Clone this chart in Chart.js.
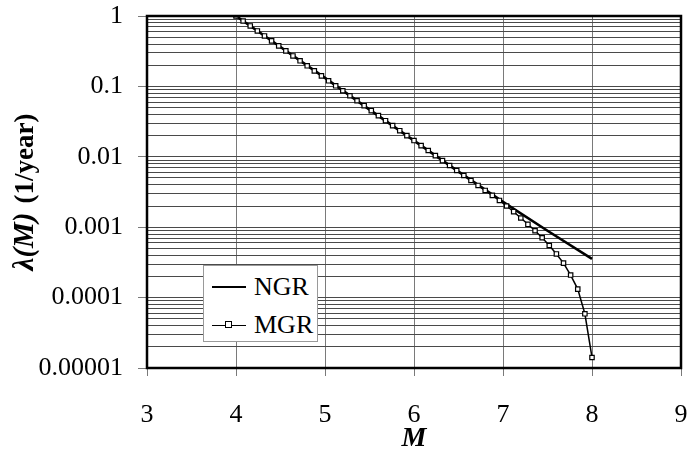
<!DOCTYPE html>
<html>
<head>
<meta charset="utf-8">
<script src="https://cdn.jsdelivr.net/npm/chart.js@4.4.0/dist/chart.umd.min.js"></script>
<style>
  html, body { margin: 0; padding: 0; background: #fff; }
  #wrap { position: relative; width: 689px; height: 449px; }
  .legend {
    position: absolute; left: 203px; top: 265px; width: 115px; height: 77px;
    background: #fff; border: 1px solid #9a9a9a; box-sizing: border-box;
    font-family: 'Liberation Serif', 'Times New Roman', serif; font-size: 26px; color: #000;
  }
  .legend .row { position: absolute; left: 8px; height: 30px; display: flex; align-items: center; }
  .legend .swatch { position: relative; width: 34px; margin-right: 8px; }
  .legend .ngr { border-top: 2.5px solid #000; }
  .legend .mgr { border-top: 1.5px solid #000; }
  .legend .mgr i {
    position: absolute; left: 13px; top: -5px; width: 5px; height: 5px;
    border: 1px solid #000; background: #fff;
  }
</style>
</head>
<body>
<div id="wrap">
  <canvas id="grChart"></canvas>
  <div class="legend">
    <div class="row" style="top:6px"><span class="swatch ngr"></span>NGR</div>
    <div class="row" style="top:44px"><span class="swatch mgr"><i></i></span>MGR</div>
  </div>
</div>
<script>
// ===== DATA =====
// MGR: markers every 0.08 in M
const mgrMag = [
  4.00, 4.08, 4.16, 4.24, 4.32, 4.40, 4.48, 4.56, 4.64, 4.72,
  4.80, 4.88, 4.96, 5.04, 5.12, 5.20, 5.28, 5.36, 5.44, 5.52,
  5.60, 5.68, 5.76, 5.84, 5.92, 6.00, 6.08, 6.16, 6.24, 6.32,
  6.40, 6.48, 6.56, 6.64, 6.72, 6.80, 6.88, 6.96, 7.04, 7.12,
  7.20, 7.28, 7.36, 7.44, 7.52, 7.60, 7.68, 7.76, 7.84, 7.92, 8.00
];
const mgrRate = [
  1, 0.850, 0.722, 0.613, 0.521, 0.443, 0.376, 0.320, 0.271, 0.231,
  0.196, 0.166, 0.141, 0.120, 0.102, 0.0867, 0.0737, 0.0626, 0.0532, 0.0452,
  0.0384, 0.0326, 0.0277, 0.0235, 0.0200, 0.0170, 0.0144, 0.0123, 0.0104, 0.00885,
  0.00752, 0.00639, 0.00543, 0.00461, 0.00392, 0.00333, 0.00283, 0.00240, 0.00200, 0.00166,
  0.00135, 0.00110, 0.000891, 0.000708, 0.000550, 0.000417, 0.000309, 0.000209, 0.000132, 0.0000589, 0.0000141
];
// NGR
const ngrMag  = [4, 4.5, 5, 5.5, 6, 6.5, 7, 7.5, 8];
const ngrRate = [1, 0.363, 0.132, 0.0468, 0.0170, 0.00617, 0.00229, 0.000891, 0.000355];

// axis ticks
const xTicks = [3, 4, 5, 6, 7, 8, 9];
const yDecades = [0.00001, 0.0001, 0.001, 0.01, 0.1, 1];
const yLabels  = ['0.00001', '0.0001', '0.001', '0.01', '0.1', '1'];
const yTitleSymbol = 'λ(M)';
const yTitleUnit = '(1/year)';
const xTitle = 'M';

const FONT = "'Liberation Serif', 'Times New Roman', serif";

// grid lines at 1..9 x 10^n
const yTickValues = [];
yDecades.forEach((d, i) => {
  if (i === yDecades.length - 1) { yTickValues.push(d); return; }
  for (let s = 1; s <= 9; s++) yTickValues.push(+(s * d).toPrecision(3));
});

function isDecade(v) {
  const l = Math.log10(v);
  return Math.abs(l - Math.round(l)) < 1e-9;
}

// ===== PLUGINS =====
const frameAndTitle = {
  id: 'frameAndTitle',
  afterDraw(chart) {
    const { ctx, chartArea: a } = chart;
    ctx.save();
    ctx.strokeStyle = '#000';
    ctx.lineWidth = 2.5;
    ctx.strokeRect(a.left, a.top, a.right - a.left, a.bottom - a.top);

    // y title, mixed italic / upright
    ctx.translate(26, 192);
    ctx.rotate(-Math.PI / 2);
    ctx.fillStyle = '#000';
    ctx.textBaseline = 'middle';
    const f1 = 'italic bold 29px ' + FONT;
    const f2 = 'bold 27px ' + FONT;
    const gap = 9;
    ctx.font = f1; const w1 = ctx.measureText(yTitleSymbol).width;
    ctx.font = f2; const w2 = ctx.measureText(yTitleUnit).width;
    let x = -(w1 + gap + w2) / 2;
    ctx.font = f1; ctx.fillText(yTitleSymbol, x, 0);
    ctx.font = f2; ctx.fillText(yTitleUnit, x + w1 + gap, 0);
    ctx.restore();
  }
};

// ===== CHART =====
document.addEventListener('DOMContentLoaded', () => {
  const el = document.getElementById('grChart');
  new Chart(el, {
    type: 'line',
    data: {
      datasets: [
        {
          label: 'MGR',
          data: mgrMag.map((m, i) => ({ x: m, y: mgrRate[i] })),
          borderColor: '#000',
          borderWidth: 1.5,
          pointStyle: 'rect',
          pointRadius: 3.1,
          pointBorderWidth: 1.2,
          pointBorderColor: '#000',
          pointBackgroundColor: '#fff',
          tension: 0
        },
        {
          label: 'NGR',
          data: ngrMag.map((m, i) => ({ x: m, y: ngrRate[i] })),
          borderColor: '#000',
          borderWidth: 2.6,
          pointRadius: 0,
          tension: 0
        }
      ]
    },
    options: {
      responsive: true,
      maintainAspectRatio: false,
      animation: false,
      layout: { padding: { left: 0, top: 16, right: 8, bottom: 0 } },
      plugins: { legend: { display: false }, tooltip: { enabled: false } },
      scales: {
        x: {
          type: 'linear',
          min: 3, max: 9,
          afterFit: s => { s.height = 81; s.paddingLeft = 0; s.paddingRight = 0; },
          afterBuildTicks: s => { s.ticks = xTicks.map(v => ({ value: v })); },
          ticks: { color: '#000', font: { family: FONT, size: 26 }, padding: 24, maxRotation: 0 },
          grid: { color: '#7a7a7a', lineWidth: 1, tickLength: 8, tickColor: '#7a7a7a' },
          border: { display: false },
          title: {
            display: true, text: xTitle, color: '#000',
            font: { family: FONT, size: 28, weight: 'bold', style: 'italic' },
            padding: { top: 0, bottom: -7 }
          }
        },
        y: {
          type: 'logarithmic',
          min: 0.00001, max: 1,
          afterFit: s => { s.width = 147; s.paddingTop = 0; s.paddingBottom = 0; },
          afterBuildTicks: s => { s.ticks = yTickValues.map(v => ({ value: v })); },
          ticks: {
            autoSkip: false,
            color: '#000',
            font: { family: FONT, size: 26 },
            padding: 15,
            callback: v => {
              const i = yDecades.findIndex(d => Math.abs(d - v) / d < 1e-6);
              return i >= 0 ? yLabels[i] : '';
            }
          },
          grid: {
            color: '#4a4a4a',
            lineWidth: 1,
            tickLength: 9,
            tickColor: c => (c.tick && isDecade(c.tick.value)) ? '#7a7a7a' : 'rgba(0,0,0,0)'
          },
          border: { display: false }
        }
      }
    },
    plugins: [frameAndTitle]
  });
});
</script>
</body>
</html>
